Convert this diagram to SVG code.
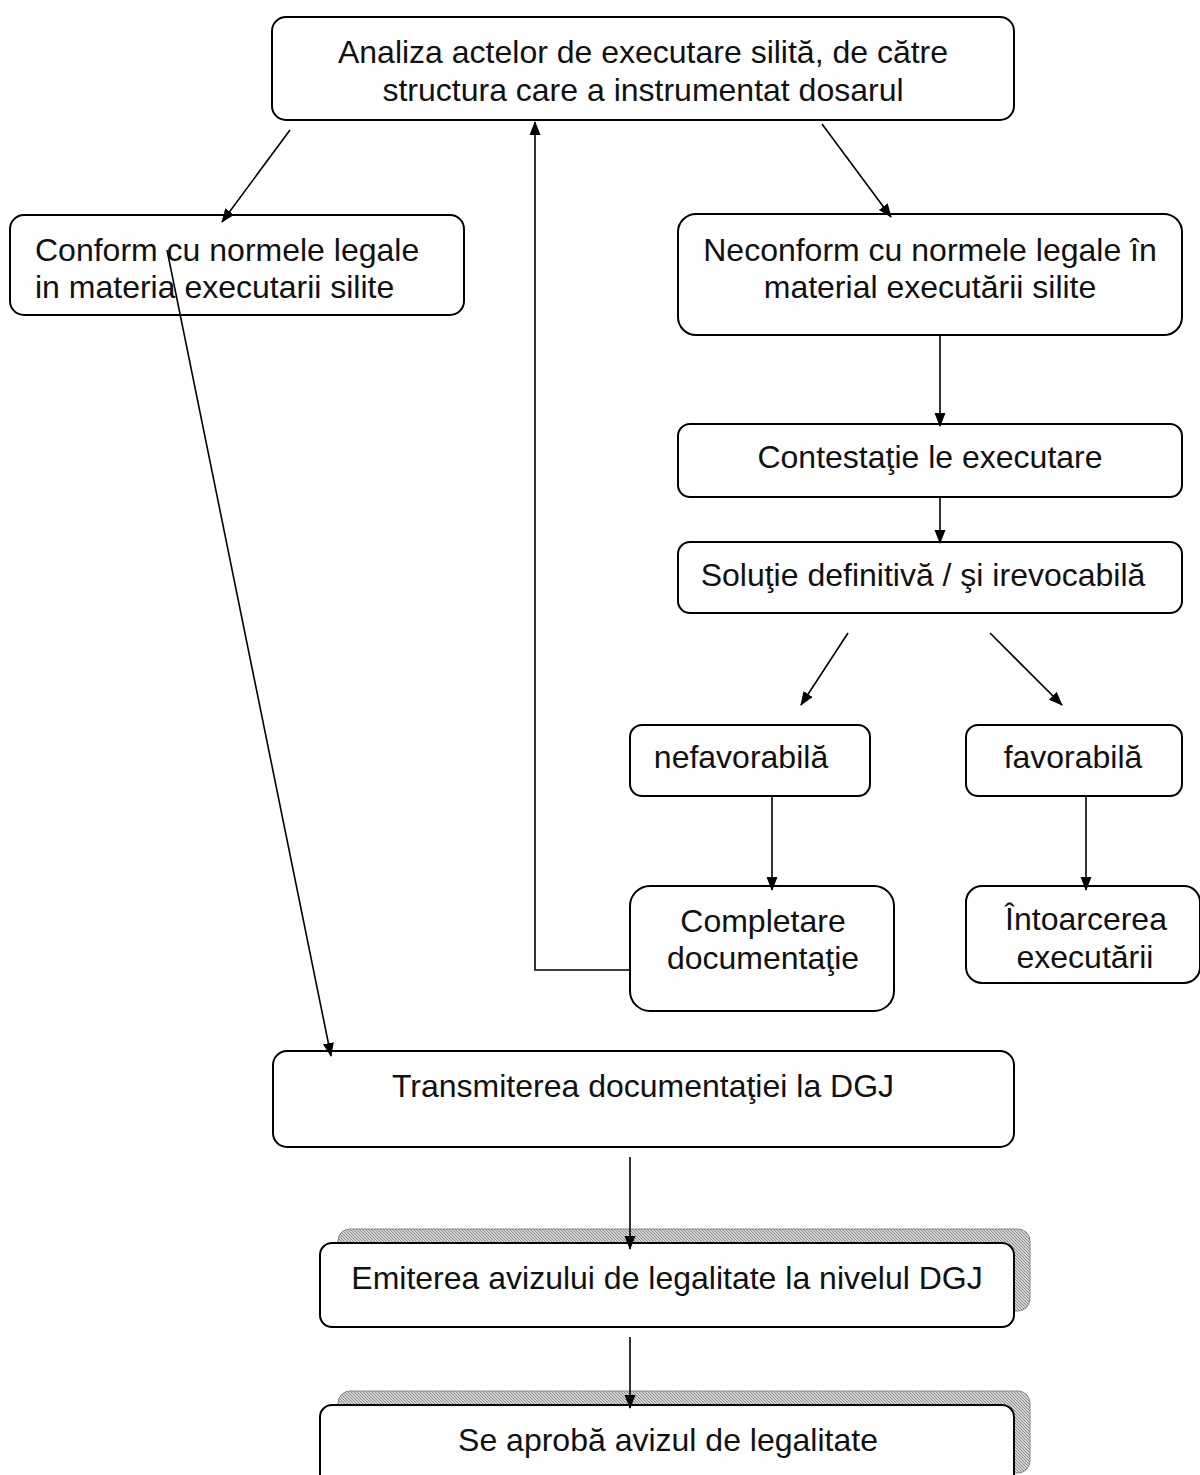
<svg xmlns="http://www.w3.org/2000/svg" width="1200" height="1475" viewBox="0 0 1200 1475">
<style>
.box{fill:#fff;stroke:#000;stroke-width:2}
.t{font-family:"Liberation Sans",Arial,sans-serif;font-size:32px;fill:#111;text-anchor:middle}
.l{text-anchor:start}
.c{fill:none;stroke:#000;stroke-width:1.6}
.sh{fill:url(#hatch);stroke:#888;stroke-width:1}
</style>
<defs>
<marker id="ah2" viewBox="0 0 14 12" refX="13" refY="6" markerWidth="14" markerHeight="12" markerUnits="userSpaceOnUse" orient="auto"><path d="M0,0.5 L14,6 L0,11.5 z" fill="#000"/></marker>
<pattern id="hatch" width="6" height="6" patternUnits="userSpaceOnUse"><rect width="6" height="6" fill="#d4d4d4"/><path d="M0,0 L3,3 M3,0 L6,3 M0,3 L3,6 M3,3 L6,6" stroke="#8a8a8a" stroke-width="1"/></pattern>
</defs>

<g id="node-analiza"><rect class="box" x="272" y="17" width="742" height="103" rx="14"/><text class="t" x="643" y="63">Analiza actelor de executare silită, de către</text><text class="t" x="643" y="101">structura care a instrumentat dosarul</text></g>
<g id="node-conform"><rect class="box" x="10" y="215" width="454" height="100" rx="14"/><text class="t l" x="35" y="261">Conform cu normele legale</text><text class="t l" x="35" y="298">in materia executarii silite</text></g>
<g id="node-neconform"><rect class="box" x="678" y="214" width="504" height="121" rx="18"/><text class="t" x="930" y="261">Neconform cu normele legale în</text><text class="t" x="930" y="298">material executării silite</text></g>
<g id="node-contestatie"><rect class="box" x="678" y="424" width="504" height="73" rx="12"/><text class="t" x="930" y="468">Contestaţie le executare</text></g>
<g id="node-solutie"><rect class="box" x="678" y="542" width="504" height="71" rx="12"/><text class="t" x="923" y="586">Soluţie definitivă / şi irevocabilă</text></g>
<g id="node-nefav"><rect class="box" x="630" y="725" width="240" height="71" rx="12"/><text class="t" x="741" y="768">nefavorabilă</text></g>
<g id="node-fav"><rect class="box" x="966" y="725" width="216" height="71" rx="12"/><text class="t" x="1073" y="768">favorabilă</text></g>
<g id="node-completare"><rect class="box" x="630" y="886" width="264" height="125" rx="20"/><text class="t" x="763" y="932">Completare</text><text class="t" x="763" y="969">documentaţie</text></g>
<g id="node-intoarcerea"><rect class="box" x="966" y="886" width="234" height="97" rx="16"/><text class="t" x="1086" y="930">Întoarcerea</text><text class="t" x="1085" y="968">executării</text></g>
<g id="node-transmiterea"><rect class="box" x="273" y="1051" width="741" height="96" rx="14"/><text class="t" x="643" y="1097">Transmiterea documentaţiei la DGJ</text></g>
<g id="node-emiterea"><rect class="sh" x="338" y="1229" width="692" height="82" rx="12"/><rect class="box" x="320" y="1243" width="694" height="84" rx="12"/><text class="t" x="667" y="1289">Emiterea avizului de legalitate la nivelul DGJ</text></g>
<g id="node-aproba"><rect class="sh" x="338" y="1391" width="692" height="82" rx="12"/><rect class="box" x="320" y="1405" width="694" height="84" rx="12"/><text class="t" x="668" y="1451">Se aprobă avizul de legalitate</text></g>

<g id="connectors">
<line class="c" x1="290" y1="130" x2="222" y2="222" marker-end="url(#ah2)"/>
<line class="c" x1="822" y1="124" x2="891" y2="217" marker-end="url(#ah2)"/>
<polyline class="c" points="630,970 535,970 535,122" marker-end="url(#ah2)"/>
<line class="c" x1="167" y1="250" x2="331" y2="1056" marker-end="url(#ah2)"/>
<line class="c" x1="940" y1="335" x2="940" y2="426" marker-end="url(#ah2)"/>
<line class="c" x1="940" y1="497" x2="940" y2="543" marker-end="url(#ah2)"/>
<line class="c" x1="848" y1="633" x2="801" y2="705" marker-end="url(#ah2)"/>
<line class="c" x1="990" y1="633" x2="1062" y2="705" marker-end="url(#ah2)"/>
<line class="c" x1="772" y1="796" x2="772" y2="890" marker-end="url(#ah2)"/>
<line class="c" x1="1086" y1="796" x2="1086" y2="890" marker-end="url(#ah2)"/>
<line class="c" x1="630" y1="1157" x2="630" y2="1249" marker-end="url(#ah2)"/>
<line class="c" x1="630" y1="1337" x2="630" y2="1408" marker-end="url(#ah2)"/>
</g>
</svg>
